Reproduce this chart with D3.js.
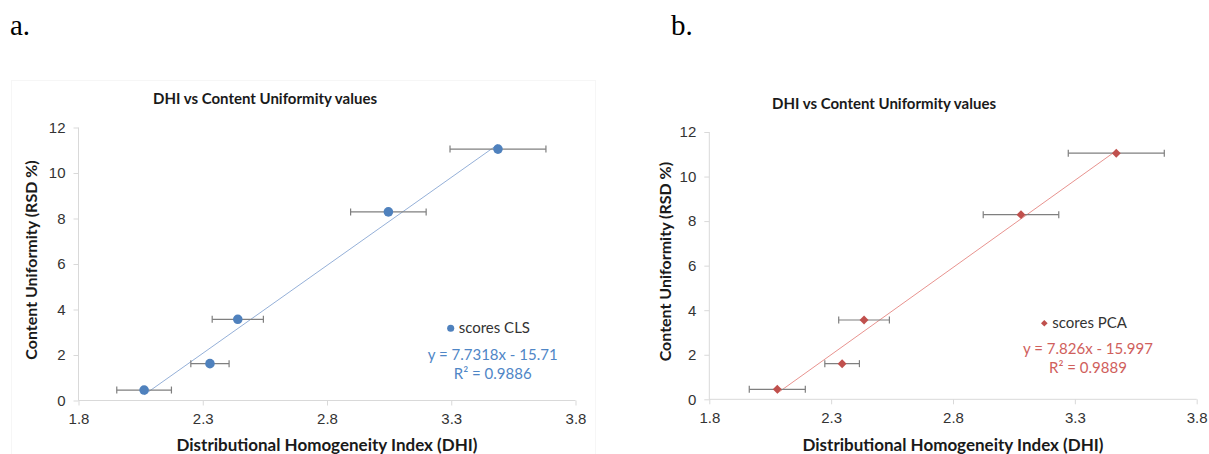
<!DOCTYPE html>
<html>
<head>
<meta charset="utf-8">
<script src="https://cdn.jsdelivr.net/npm/d3@7/dist/d3.min.js"></script>
<style>
    body { margin: 0; background: #fff; }
    svg { display: block; font-family: Lato, "Open Sans", sans-serif; }
    .axis path, .axis line { stroke: #d9d9d9; }
    .axis text { fill: #333; font-size: 15px; }
</style>
</head>
<body>
<svg id="chart" width="1209" height="454"></svg>
<script>
// values
const xTicks = [1.8, 2.3, 2.8, 3.3, 3.8];
const yTicks = [0, 2, 4, 6, 8, 10, 12];

const dhiCLS = [2.064, 2.329, 2.441, 3.047, 3.488];
const cuCLS = [0.46, 1.62, 3.57, 8.29, 11.05];
const errCLS = [0.110, 0.077, 0.103, 0.152, 0.193];
const fitCLS = [7.7318, -15.71];   // slope, intercept
const eqCLS = ["y = 7.7318x - 15.71", "R² = 0.9886"];

const dhiPCA = [2.079, 2.345, 2.435, 3.079, 3.470];
const cuPCA = [0.45, 1.60, 3.56, 8.29, 11.05];
const errPCA = [0.115, 0.071, 0.104, 0.155, 0.197];
const fitPCA = [7.826, -15.997];
const eqPCA = ["y = 7.826x - 15.997", "R² = 0.9889"];

const svg = d3.select("#chart");

// faint chart-area border of panel a
svg.append("rect")
    .attr("x", 11.5).attr("y", 80.5)
    .attr("width", 584).attr("height", 380)
    .attr("fill", "none").attr("stroke", "#f6f6f6");

function drawPanel(p) {
    const x = d3.scaleLinear().domain([1.8, 3.8]).range([p.left, p.right]);
    const y = d3.scaleLinear().domain([0, 12]).range([p.bottom, p.top]);
    const g = svg.append("g");
    const pts = p.xs.map((v, i) => ({ x: v, y: p.ys[i], e: p.errs[i] }));

    svg.append("text")
        .attr("x", p.letterX).attr("y", 35)
        .style("font-family", "'Liberation Serif', serif")
        .style("font-size", "29px")
        .text(p.letter);

    g.append("text")
        .attr("x", p.titleX).attr("y", p.titleY)
        .attr("text-anchor", "middle")
        .style("font-weight", "bold").style("font-size", "15px").style("fill", "#1a1a1a")
        .text("DHI vs Content Uniformity values");

    g.append("g").attr("class", "axis")
        .attr("transform", `translate(0,${p.bottom})`)
        .call(d3.axisBottom(x).tickValues(xTicks).tickSize(5).tickPadding(8)
            .tickFormat(d3.format(".1f")))
        .call((a) => a.select(".domain").attr("d", `M${p.left},0H${p.right}`));

    g.append("g").attr("class", "axis")
        .attr("transform", `translate(${p.left},0)`)
        .call(d3.axisLeft(y).tickValues(yTicks).tickSize(5).tickPadding(8))
        .call((a) => a.select(".domain").attr("d", `M0,${p.top}V${p.bottom}`));

    g.append("text")
        .attr("transform", `translate(${p.yLabelX},${(p.top + p.bottom) / 2 - 4}) rotate(-90)`)
        .attr("text-anchor", "middle")
        .style("font-weight", "bold").style("font-size", "16px").style("fill", "#1a1a1a")
        .text("Content Uniformity (RSD %)");

    g.append("text")
        .attr("x", (p.left + p.right) / 2 + p.xLabelShift).attr("y", 451)
        .attr("text-anchor", "middle")
        .style("font-weight", "bold").style("font-size", "17px").style("fill", "#1a1a1a")
        .text("Distributional Homogeneity Index (DHI)");

    // linear trendline over the data range
    const ext = d3.extent(p.xs);
    g.append("line")
        .attr("x1", x(ext[0])).attr("y1", y(p.fit[0] * ext[0] + p.fit[1]))
        .attr("x2", x(ext[1])).attr("y2", y(p.fit[0] * ext[1] + p.fit[1]))
        .attr("stroke", p.lineColor).attr("stroke-width", 1);

    // horizontal error bars
    const eb = g.append("g").attr("stroke", "#7f7f7f").attr("stroke-width", 1.2);
    pts.forEach((d) => {
        eb.append("line").attr("x1", x(d.x - d.e)).attr("x2", x(d.x + d.e))
            .attr("y1", y(d.y)).attr("y2", y(d.y));
        [d.x - d.e, d.x + d.e].forEach((v) => {
            eb.append("line").attr("x1", x(v)).attr("x2", x(v))
                .attr("y1", y(d.y) - 3.5).attr("y2", y(d.y) + 3.5);
        });
    });

    const sym = d3.symbol().type(p.symbol).size(p.symbolSize);
    g.selectAll(".pt").data(pts).enter().append("path")
        .attr("class", "pt")
        .attr("transform", (d) => `translate(${x(d.x)},${y(d.y)})${p.symbol === d3.symbolSquare ? " rotate(45)" : ""}`)
        .attr("d", sym)
        .attr("fill", p.color);

    // legend + equation
    g.append("path")
        .attr("transform", `translate(${p.legX},${p.legY})${p.symbol === d3.symbolSquare ? " rotate(45)" : ""}`)
        .attr("d", d3.symbol().type(p.symbol).size(p.symbolSize * 0.55))
        .attr("fill", p.color);
    g.append("text")
        .attr("x", p.legX + 8).attr("y", p.legY + 5)
        .style("font-size", "15px").style("fill", "#333")
        .text(p.name);
    p.eq.forEach((t, i) => {
        g.append("text")
            .attr("x", p.eqX).attr("y", p.eqY + i * 19)
            .attr("text-anchor", "middle")
            .style("font-size", "15px").style("fill", p.eqColor)
            .text(t);
    });
}

drawPanel({
    letter: "a.", letterX: 10, titleX: 265, titleY: 104,
    left: 78.5, right: 575.5, top: 127.5, bottom: 400.5, yLabelX: 37, xLabelShift: 0,
    xs: dhiCLS, ys: cuCLS, errs: errCLS, fit: fitCLS, eq: eqCLS,
    symbol: d3.symbolCircle, symbolSize: 72, name: "scores CLS",
    color: "#4f81bd", lineColor: "#95b0d8", eqColor: "#4f86c6",
    legX: 450.7, legY: 328.3, eqX: 492.7, eqY: 360
});

drawPanel({
    letter: "b.", letterX: 671, titleX: 884, titleY: 109,
    left: 709.3, right: 1196.7, top: 132, bottom: 399.3, yLabelX: 671, xLabelShift: 0,
    xs: dhiPCA, ys: cuPCA, errs: errPCA, fit: fitPCA, eq: eqPCA,
    symbol: d3.symbolSquare, symbolSize: 40, name: "scores PCA",
    color: "#c0504d", lineColor: "#e8938f", eqColor: "#d0605c",
    legX: 1044.3, legY: 323.3, eqX: 1088, eqY: 354
});
</script>
</body>
</html>
